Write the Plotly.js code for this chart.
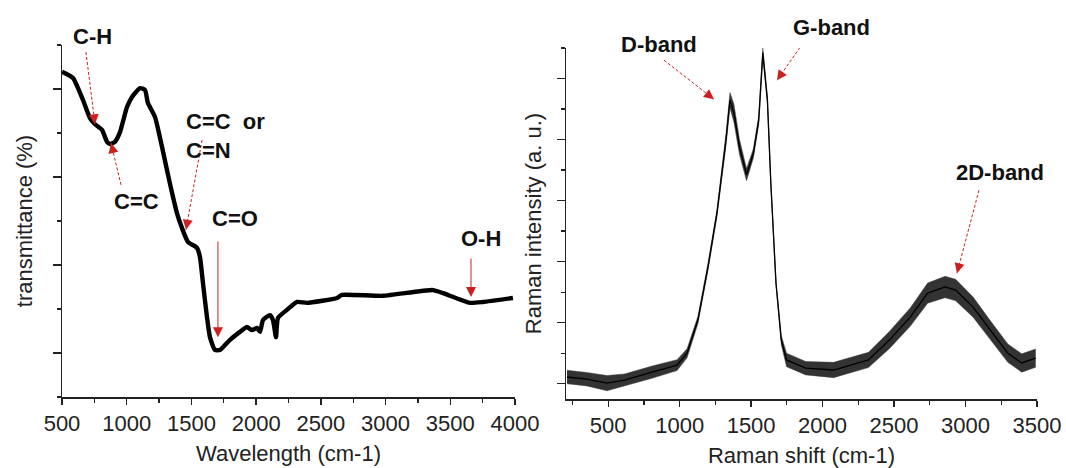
<!DOCTYPE html>
<html>
<head>
<meta charset="utf-8">
<script src="https://cdn.plot.ly/plotly-3.0.1.min.js"></script>
<style>html,body{margin:0;padding:0;background:#fff;}#chart{width:1066px;height:468px;}</style>
</head>
<body>
<div id="chart"></div>
<script>
// FTIR spectrum (left)
const ftirWavenumber = [500,585,662,716,755,809,848,871,909,948,1002,1041,1103,1141,1164,1219,1273,1311,1350,1388,1427,1474,1543,1566,1589,1620,1643,1682,1721,1798,1875,1929,1968,2007,2030,2053,2107,2130,2153,2169,2238,2316,2393,2625,2663,2980,3366,3444,3652,3753,3984];
const ftirTransmittance = [7.39,7.25,6.75,6.34,6.20,6.07,5.80,5.75,5.80,6.02,6.59,6.82,7.02,6.98,6.68,6.36,5.68,5.16,4.64,4.18,3.84,3.52,3.39,3.18,2.59,1.82,1.36,1.07,1.07,1.30,1.48,1.59,1.52,1.57,1.48,1.75,1.86,1.75,1.36,1.80,1.98,2.16,2.14,2.25,2.32,2.30,2.43,2.36,2.14,2.16,2.25];

// Raman spectrum (right): centre line and noise envelope
const ramanShift = [212,350,492,614,807,982,1052,1128,1198,1261,1324,1352,1380,1419,1468,1516,1553,1582,1614,1638,1674,1711,1748,1882,2077,2321,2467,2613,2735,2857,2931,3053,3174,3296,3393,3491];
const ramanIntensity = [0.22,0.15,0.02,0.12,0.38,0.61,1.00,2.09,3.82,5.59,7.98,9.29,8.86,7.75,6.85,7.55,8.63,10.85,9.29,6.57,3.30,1.43,0.78,0.51,0.45,0.78,1.43,2.18,2.97,3.17,3.07,2.51,1.76,1.00,0.68,0.84];
const ramanUpper = [0.44,0.37,0.27,0.32,0.58,0.79,1.15,2.21,3.94,5.71,8.18,9.54,9.16,8.00,7.05,7.70,8.78,11.0,9.41,6.62,3.35,1.58,1.00,0.73,0.70,1.03,1.71,2.48,3.30,3.52,3.42,2.84,2.06,1.30,0.98,1.14];
const ramanLower = [0.00,-0.07,-0.23,-0.08,0.18,0.43,0.85,1.97,3.70,5.47,7.78,9.04,8.56,7.50,6.65,7.40,8.48,10.7,9.17,6.52,3.25,1.28,0.56,0.29,0.20,0.53,1.15,1.88,2.64,2.82,2.72,2.18,1.46,0.70,0.38,0.54];

const ftirXTicks = [500,1000,1500,2000,2500,3000,3500,4000];
const ramanXTicks = [500,1000,1500,2000,2500,3000,3500];

// labels: [text, x (data), y (data, or paper when flagged), axis, y in paper coords?]
const labels = [
  ['C-H', 732, 0.923, 'left', true],
  ['C=C', 1079, 4.45, 'left', false],
  ['C=C\u00a0\u00a0or<br>C=N', 1443, 5.93, 'left-l', false],
  ['C=O', 1837, 4.05, 'left', false],
  ['O-H', 3737, 3.61, 'left', false],
  ['D-band', 856, 0.904, 'right', true],
  ['G-band', 2059, 0.942, 'right', true],
  ['2D-band', 3241, 6.93, 'right', false]
];
// arrows: [tipX, tipY, tailX, tailY, axis, dashed]
const arrows = [
  [755, 6.2, 685, 7.84, 'left', true],
  [879, 5.77, 956, 4.82, 'left', true],
  [1458, 3.8, 1582, 5.84, 'left', true],
  [1705, 1.36, 1705, 3.57, 'left', false],
  [3660, 2.27, 3660, 3.18, 'left', false],
  [1240, 9.32, 891, 10.6, 'right', true],
  [1681, 9.94, 1842, 11.02, 'right', true],
  [2940, 3.62, 3094, 6.34, 'right', true]
];

const tickFont = {family: 'Liberation Sans, Arial, sans-serif', size: 22, color: '#222'};
const titleFont = {family: 'Liberation Sans, Arial, sans-serif', size: 22, color: '#222'};
const arrowColor = '#cc2020';

const traces = [
  {x: ftirWavenumber, y: ftirTransmittance, xaxis: 'x', yaxis: 'y', mode: 'lines',
   line: {color: '#000', width: 4.4, shape: 'spline', smoothing: 0.5}, hoverinfo: 'skip'},
  {x: ramanShift, y: ramanLower, xaxis: 'x2', yaxis: 'y2', mode: 'lines',
   line: {color: 'rgba(60,60,60,0.6)', width: 0.8}, hoverinfo: 'skip'},
  {x: ramanShift, y: ramanUpper, xaxis: 'x2', yaxis: 'y2', mode: 'lines', fill: 'tonexty',
   fillcolor: 'rgba(15,15,15,0.85)', line: {color: 'rgba(60,60,60,0.6)', width: 0.8}, hoverinfo: 'skip'},
  {x: ramanShift, y: ramanIntensity, xaxis: 'x2', yaxis: 'y2', mode: 'lines',
   line: {color: '#000', width: 1.3}, hoverinfo: 'skip'}
];

const annotations = [];
const shapes = [];
labels.forEach(l => {
  const left = l[3].startsWith('left');
  annotations.push({
    text: '<b>' + l[0] + '</b>', x: l[1], y: l[2],
    xref: left ? 'x' : 'x2', yref: l[4] ? 'paper' : (left ? 'y' : 'y2'),
    showarrow: false, xanchor: l[3] === 'left-l' ? 'left' : 'center', align: 'left',
    yanchor: 'middle',
    font: {family: 'Liberation Sans, Arial, sans-serif', size: 22, color: '#111'}
  });
});
arrows.forEach(a => {
  const left = a[4] === 'left';
  const xr = left ? 'x' : 'x2', yr = left ? 'y' : 'y2';
  let ax = a[2], ay = a[3];
  if (a[5]) {
    shapes.push({type: 'line', xref: xr, yref: yr, x0: a[2], y0: a[3], x1: a[0], y1: a[1],
      line: {color: arrowColor, width: 1, dash: '3px,2px'}});
    ax = a[0] + 0.12 * (a[2] - a[0]);
    ay = a[1] + 0.12 * (a[3] - a[1]);
  }
  annotations.push({
    text: '', x: a[0], y: a[1], ax: ax, ay: ay,
    xref: xr, yref: yr, axref: xr, ayref: yr,
    showarrow: true, arrowhead: 2, arrowsize: 2, arrowwidth: 1, arrowcolor: arrowColor
  });
});

const baseAxis = {
  showgrid: false, zeroline: false, showline: true, linecolor: '#222', linewidth: 1.5,
  ticks: 'outside', tickcolor: '#222', tickwidth: 1.3, ticklen: 6, tickfont: tickFont
};

const layout = {
  width: 1066, height: 468,
  margin: {l: 0, r: 0, t: 0, b: 0},
  paper_bgcolor: '#fff', plot_bgcolor: '#fff',
  showlegend: false,
  xaxis: Object.assign({}, baseAxis, {
    domain: [62/1066, 515/1066], range: [500, 4000], anchor: 'y',
    tickmode: 'array', tickvals: ftirXTicks,
    minor: {dtick: 250, tick0: 500, ticks: 'outside', ticklen: 4, tickcolor: '#222'},
    title: {text: 'Wavelength (cm-1)', font: titleFont, standoff: 10}
  }),
  yaxis: Object.assign({}, baseAxis, {
    domain: [71/468, 423/468], range: [0, 8], anchor: 'x',
    tickmode: 'linear', tick0: 1, dtick: 2, showticklabels: false, ticklen: 8,
    minor: {dtick: 1, tick0: 0, ticks: 'outside', ticklen: 4, tickcolor: '#222'},
    title: {text: 'transmittance (%)', font: titleFont, standoff: 14}
  }),
  xaxis2: Object.assign({}, baseAxis, {
    domain: [566/1066, 1037/1066], range: [205, 3500], anchor: 'y2',
    tickmode: 'array', tickvals: ramanXTicks,
    minor: {dtick: 250, tick0: 500, ticks: 'outside', ticklen: 4, tickcolor: '#222'},
    title: {text: 'Raman shift (cm-1)', font: titleFont, standoff: 10}
  }),
  yaxis2: Object.assign({}, baseAxis, {
    domain: [69/468, 420/468], range: [-0.5, 11], anchor: 'x2',
    tickmode: 'linear', tick0: 0, dtick: 2, showticklabels: false, ticklen: 8,
    minor: {dtick: 1, tick0: 1, ticks: 'outside', ticklen: 4, tickcolor: '#222'},
    title: {text: 'Raman intensity (a. u.)', font: titleFont, standoff: 9}
  }),
  shapes: shapes,
  annotations: annotations
};

Plotly.newPlot('chart', traces, layout, {staticPlot: true, displayModeBar: false});
</script>
</body>
</html>
